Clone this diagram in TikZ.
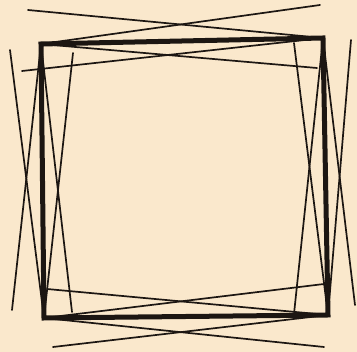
\documentclass[tikz,border=0pt]{standalone}
\definecolor{giay}{RGB}{250,232,204}
\definecolor{muc}{RGB}{28,22,18}
\tikzset{canh/.style={line width=1.7pt,color=muc},
	vien/.style={line width=5pt,color=muc,line join=miter}}
\begin{document}
\begin{tikzpicture}[x=1pt,y=-1pt,line cap=round]
			\fill[giay] (0,0) rectangle (357,352);
			\useasboundingbox (0,0) rectangle (357,352);
			% Bốn đỉnh hình vuông
			\coordinate (A) at (41,44);
			\coordinate (B) at (323,38);
			\coordinate (C) at (328,315);
			\coordinate (D) at (44,318);
			\draw[vien] (A)--(B)--(C)--(D)--cycle;
			% Cạnh trên
			\draw[canh] (28,10)--(B);
			\draw[canh] (A)--(320,5);
			\draw[canh] (22,71)--(B);
			\draw[canh] (A)--(317,68);
			% Cạnh dưới
			\draw[canh] (47,289)--(C);
			\draw[canh] (D)--(324,284);
			\draw[canh] (53,347)--(C);
			\draw[canh] (D)--(324,347);
			% Cạnh trái
			\draw[canh] (10,50)--(D);
			\draw[canh] (A)--(12,310);
			\draw[canh] (73,53)--(D);
			\draw[canh] (A)--(72,312);
			% Cạnh phải
			\draw[canh] (351,40)--(C);
			\draw[canh] (B)--(355,305);
			\draw[canh] (294,43)--(C);
			\draw[canh] (B)--(294,314);
		\end{tikzpicture}
\end{document}
